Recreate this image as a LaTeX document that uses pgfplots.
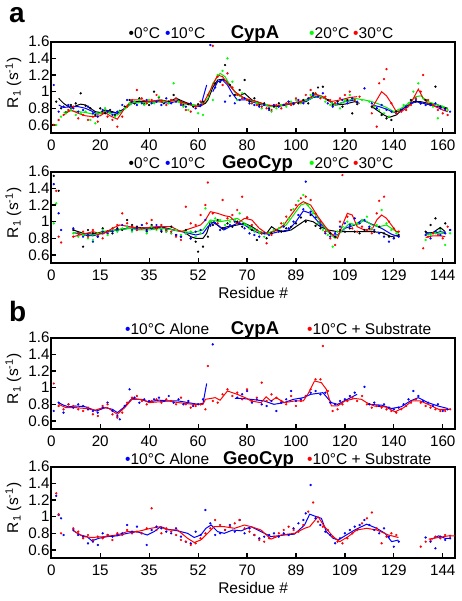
\documentclass[border=0pt]{standalone}
\usepackage{fontspec}
\setmainfont{Liberation Sans}
\usepackage{pgfplots}
\pgfplotsset{compat=1.18}
\definecolor{cg}{RGB}{0,235,0}
\definecolor{cgd}{RGB}{0,255,0}
\pgfplotsset{
  panel/.style={
    scale only axis, width=403.7pt, height=91.6pt,
    xmin=0, xmax=165, ymin=0.5, ymax=1.6,
    ytick={0.6,0.8,1,1.2,1.4,1.6},
    yticklabels={0.6,0.8,1,1.2,1.4,1.6},
    xtick={0,20,40,60,80,100,120,140,160},
    xtick pos=bottom, ytick pos=left,
    tick align=inside, major tick length=5pt,
    axis line style={line width=1.8pt},
    every tick/.style={line width=1.2pt, black},
    ticklabel style={font=\fontsize{15.2}{15.2}\selectfont},
    /pgf/number format/assume math mode=true,
    xticklabel style={anchor=base, yshift=-16.8pt},
    yticklabel style={anchor=east, inner sep=0pt, xshift=-1.5pt},
    ylabel={R\textsubscript{1} (s\textsuperscript{-1})},
    ylabel style={at={(axis description cs:-0.094,0.55)}, anchor=center, rotate=0, font=\fontsize{15.5}{15.5}\selectfont},
    xlabel style={at={(axis description cs:0.5,0)}, anchor=base, yshift=-35.5pt, font=\fontsize{15.5}{15.5}\selectfont},
    unbounded coords=jump,
  },
  sc/.style={only marks, mark=*, mark size=0.95pt},
  ln/.style={no marks, line width=1pt},
}
\newcommand{\lf}{\fontsize{15.5}{15.5}\selectfont}
\newcommand{\tf}{\fontsize{18.5}{18.5}\selectfont\bfseries}
\begin{document}
\begin{tikzpicture}[x=1pt,y=1pt]
\path[use as bounding box] (0,0) rectangle (462,-601);

% ---------------- Panel a, CypA ----------------
\begin{axis}[panel, at={(51.3pt,-133.3pt)}, anchor=south west,
  xticklabels={0,20,40,60,80,100,120,140,160}]
\addplot[sc, black] coordinates {(2,0.88)(4,0.8)(6,0.75)(8,0.84)(10,0.86)(12,0.98)(14,0.83)(16,0.8)(18,0.72)(20,0.8)(22,0.74)(24,0.78)(26,0.72)(28,0.77)(30,0.82)(32,0.9)(34,0.86)(36,0.92)(38,0.85)(40,0.84)(42,1.0)(44,0.93)(46,0.86)(48,0.88)(50,0.96)(52,0.9)(54,0.84)(56,0.85)(58,0.82)(60,0.85)(62,0.88)(67,1.1)(69,1.12)(71,1.32)(73,1.08)(75,0.96)(77,1.02)(79,1.14)(81,0.88)(83,0.92)(85,0.84)(87,0.86)(89,0.8)(91,0.82)(93,0.86)(95,0.84)(97,0.88)(99,0.85)(101,0.86)(103,0.9)(105,0.86)(107,0.98)(109,1.05)(111,1.06)(113,0.9)(115,0.84)(117,0.88)(119,0.82)(121,0.9)(123,0.74)(125,0.85)(131,0.82)(133,0.8)(135,0.72)(137,0.68)(139,0.66)(141,0.76)(143,0.78)(145,0.82)(147,0.9)(149,0.88)(151,0.86)(153,0.9)(155,0.84)(157,1.06)(159,0.82)(161,0.8)};
\addplot[sc, blue] coordinates {(1,1.08)(3,0.76)(5,0.82)(7,0.84)(9,0.8)(11,0.76)(13,0.78)(15,0.82)(17,0.74)(19,0.7)(21,0.78)(23,0.76)(25,0.72)(27,0.76)(29,0.84)(31,0.9)(33,0.88)(35,0.84)(37,0.86)(39,0.9)(41,0.86)(43,0.88)(45,0.84)(47,0.92)(49,0.86)(51,0.88)(53,0.84)(55,0.82)(57,0.86)(59,0.8)(61,0.84)(65,1.56)(67,1.05)(69,1.12)(71,0.88)(73,0.95)(75,0.86)(77,0.9)(79,0.92)(81,0.86)(83,0.84)(85,0.82)(87,0.84)(89,0.78)(91,0.84)(93,0.82)(95,0.84)(97,0.88)(99,0.86)(101,0.9)(103,0.86)(105,0.92)(107,0.96)(109,0.94)(111,0.98)(113,0.86)(115,0.82)(117,0.86)(119,0.9)(121,0.86)(123,0.92)(125,0.88)(128,1.04)(131,0.86)(133,0.8)(135,0.84)(137,0.78)(139,0.76)(141,0.74)(143,0.78)(145,0.82)(147,0.86)(149,0.9)(151,0.86)(153,0.84)(155,0.84)(157,0.86)(159,0.8)(161,0.78)(163,0.76)};
\addplot[sc, cgd] coordinates {(2,0.6)(4,0.7)(6,0.74)(8,0.78)(10,0.72)(12,0.74)(14,0.76)(16,0.66)(18,0.62)(20,0.74)(22,0.8)(24,0.74)(26,0.7)(28,0.76)(30,0.8)(32,0.86)(34,0.88)(36,0.9)(38,0.84)(40,0.9)(42,0.86)(44,0.94)(46,0.88)(48,0.86)(50,1.1)(52,0.88)(54,0.82)(56,0.78)(58,0.84)(60,0.74)(62,0.72)(66,0.9)(68,1.2)(70,1.25)(72,1.4)(74,1.12)(76,0.9)(78,0.98)(80,0.9)(82,0.86)(84,0.86)(86,0.8)(88,0.84)(90,0.76)(92,0.8)(94,0.84)(96,0.82)(98,0.88)(100,0.9)(102,0.86)(104,0.9)(106,0.96)(108,0.98)(110,0.94)(112,0.88)(114,0.84)(116,0.86)(118,0.8)(120,0.9)(122,0.96)(124,0.9)(127,0.9)(130,0.88)(132,0.82)(134,0.78)(136,0.74)(138,0.7)(140,0.76)(142,0.78)(144,0.84)(146,0.86)(148,1.0)(150,1.1)(152,0.92)(154,0.88)(156,0.82)(158,0.68)(160,0.82)(162,0.78)};
\addplot[sc, red] coordinates {(1,0.6)(3,0.66)(5,0.72)(7,0.78)(9,0.82)(11,0.68)(13,0.72)(15,0.66)(17,0.7)(19,0.64)(21,0.74)(23,0.7)(25,0.66)(27,0.58)(29,0.7)(31,0.82)(33,0.9)(35,1.02)(37,0.92)(39,0.86)(41,0.9)(43,0.96)(45,0.88)(47,0.84)(49,0.9)(51,0.92)(53,0.86)(55,0.78)(57,0.76)(59,0.82)(61,0.88)(64,0.96)(66,1.55)(68,1.18)(70,1.08)(72,1.22)(74,1.05)(76,0.96)(78,0.92)(80,0.9)(82,0.86)(84,0.84)(86,0.82)(88,0.8)(90,0.78)(92,0.84)(94,0.8)(96,0.86)(98,0.84)(100,0.92)(102,0.88)(104,0.96)(106,1.02)(108,0.98)(110,0.92)(112,0.94)(114,0.9)(116,0.86)(118,0.92)(120,0.96)(122,1.0)(124,0.9)(126,0.94)(131,0.74)(133,0.58)(134,1.1)(136,1.15)(137,1.27)(139,0.86)(141,0.74)(143,0.76)(145,0.78)(147,0.84)(149,0.92)(151,1.0)(152,1.2)(154,0.9)(156,0.84)(158,0.78)(160,0.74)(162,0.72)};
\addplot[ln, black] coordinates {(3,0.92)(5,0.86)(8,0.8)(10,0.83)(12,0.85)(14,0.84)(16,0.8)(18,0.76)(20,0.75)(22,0.78)(25,0.76)(27,0.74)(30,0.8)(33,0.88)(36,0.88)(40,0.88)(45,0.9)(48,0.88)(51,0.92)(55,0.87)(58,0.84)(61,0.83)(63,0.86)(64,0.9)(66,1.05)(68,1.14)(70,1.15)(72,1.12)(75,1.0)(77,0.95)(79,0.98)(82,0.9)(85,0.87)(88,0.84)(92,0.82)(96,0.84)(100,0.87)(104,0.88)(107,0.94)(110,0.95)(113,0.9)(116,0.84)(120,0.85)(124,0.88)(126,0.86)(128,nan)(131,0.82)(134,0.76)(136,0.72)(138,0.69)(141,0.72)(144,0.8)(148,0.88)(151,0.88)(154,0.86)(157,0.85)(160,0.82)(162,0.8)};
\addplot[ln, blue] coordinates {(3,0.84)(5,0.81)(8,0.82)(11,0.82)(14,0.8)(17,0.76)(19,0.73)(22,0.76)(25,0.75)(27,0.74)(30,0.8)(33,0.86)(36,0.87)(40,0.87)(44,0.88)(48,0.86)(52,0.89)(56,0.85)(59,0.83)(61,0.82)(63.5,1.08)(65,nan)(66,1.0)(68,1.12)(70,1.14)(72,1.08)(74,0.98)(76,0.9)(80,0.9)(84,0.86)(88,0.83)(92,0.83)(96,0.85)(100,0.87)(104,0.88)(107,0.93)(110,0.94)(113,0.9)(116,0.84)(120,0.88)(124,0.9)(128,nan)(131,0.84)(134,0.82)(137,0.79)(140,0.75)(143,0.78)(146,0.84)(149,0.88)(152,0.86)(155,0.84)(158,0.82)(161,0.8)};
\addplot[ln, cg] coordinates {(5,0.75)(8,0.77)(11,0.76)(14,0.75)(17,0.73)(20,0.74)(22,0.76)(25,0.73)(27,0.72)(30,0.79)(33,0.86)(36,0.87)(40,0.87)(45,0.88)(50,0.89)(55,0.85)(59,0.83)(62,0.86)(64,0.92)(66,1.1)(69,1.22)(71,1.18)(73,1.08)(76,0.96)(79,0.92)(82,0.89)(86,0.85)(90,0.82)(94,0.84)(98,0.86)(102,0.88)(105,0.9)(108,0.95)(111,0.93)(114,0.88)(116,0.84)(120,0.88)(124,0.92)(128,0.9)(131,0.88)(134,0.85)(137,0.81)(140,0.76)(143,0.8)(146,0.86)(149,0.94)(151,0.95)(154,0.88)(157,0.85)(160,0.82)(162,0.79)};
\addplot[ln, red] coordinates {(5,0.72)(8,0.78)(11,0.74)(14,0.71)(17,0.7)(20,0.71)(22,0.75)(24,0.71)(27,0.67)(30,0.8)(33,0.9)(37,0.9)(40,0.88)(44,0.9)(48,0.88)(51,0.9)(55,0.86)(59,0.82)(62,0.85)(65,1.02)(68,1.2)(70,1.18)(72,1.1)(75,1.0)(79,0.92)(84,0.88)(88,0.84)(92,0.83)(96,0.85)(100,0.87)(104,0.9)(108,0.97)(111,0.94)(114,0.88)(118,0.9)(122,0.93)(125,0.94)(128,nan)(131,0.8)(133,0.9)(135,1.0)(137,0.95)(139,0.86)(141,0.76)(143,0.76)(146,0.82)(148,0.92)(150,1.03)(152,0.92)(154,0.86)(157,0.82)(160,0.78)(162,0.76)};
\end{axis}

% ---------------- Panel a, GeoCyp ----------------
\begin{axis}[panel, at={(51.3pt,-263.3pt)}, anchor=south west,
  xticklabels={0,15,35,52,70,89,109,129,144}, xlabel={Residue \#}]
\addplot[sc, black] coordinates {(1,1.55)(3,1.37)(9,0.9)(11,0.86)(13,0.7)(15,0.9)(17,0.86)(19,0.82)(21,0.92)(23,0.88)(25,0.86)(27,0.92)(29,0.9)(31,1.02)(33,0.96)(35,0.94)(37,0.92)(39,0.9)(41,0.96)(43,0.92)(45,0.88)(47,0.9)(49,0.94)(51,0.84)(53,0.82)(55,0.9)(57,0.8)(59,0.76)(60,0.64)(62,0.7)(64,0.82)(66,0.96)(68,1.02)(70,0.92)(72,0.98)(74,0.94)(76,1.0)(78,0.94)(80,1.05)(82,0.9)(84,0.78)(86,0.86)(88,0.8)(90,0.86)(92,0.9)(94,0.88)(96,0.92)(98,0.94)(100,0.98)(102,1.05)(104,1.0)(106,1.08)(108,0.95)(110,0.92)(112,0.88)(114,0.86)(116,0.82)(118,0.9)(120,0.88)(122,0.92)(124,0.88)(126,0.86)(128,0.9)(130,0.92)(132,0.88)(134,0.94)(136,0.86)(138,0.82)(140,0.8)(142,0.84)(153,0.88)(155,0.96)(157,1.04)(159,0.92)(161,0.98)(163,0.9)};
\addplot[sc, blue] coordinates {(1,1.45)(3,1.1)(4,0.9)(9,0.92)(11,0.86)(13,0.82)(15,0.84)(17,0.76)(19,0.82)(21,0.88)(23,0.86)(25,0.88)(27,0.9)(29,0.96)(31,0.94)(33,0.9)(35,0.92)(37,0.96)(39,0.88)(41,0.92)(43,0.96)(45,0.9)(47,0.88)(49,0.86)(51,0.84)(53,0.82)(55,0.86)(57,0.8)(59,0.88)(61,0.9)(63,1.02)(65,0.95)(67,0.98)(69,0.9)(71,0.92)(73,0.96)(75,1.0)(77,0.98)(79,0.92)(81,0.86)(83,0.84)(85,0.82)(87,0.86)(89,0.84)(91,0.9)(93,0.88)(95,0.94)(97,0.92)(99,1.0)(101,1.08)(103,1.15)(104,1.48)(106,1.12)(108,1.05)(110,0.96)(112,0.86)(114,0.82)(116,0.86)(118,0.94)(120,0.98)(122,0.96)(124,1.04)(126,0.98)(128,1.02)(130,0.94)(132,0.9)(134,0.86)(136,0.82)(138,0.76)(140,0.8)(142,0.82)(153,0.84)(155,0.8)(157,0.88)(159,0.84)(161,0.86)(163,0.9)};
\addplot[sc, cgd] coordinates {(1,0.98)(2,1.22)(9,0.86)(11,0.82)(13,0.84)(15,0.8)(17,0.78)(19,0.86)(21,0.9)(23,0.84)(25,0.92)(27,0.88)(29,0.92)(31,0.94)(33,0.88)(35,0.9)(37,0.92)(39,0.86)(41,0.94)(43,0.9)(45,0.92)(47,0.88)(49,0.86)(51,0.9)(53,0.84)(55,0.86)(57,0.88)(59,0.82)(61,0.86)(63,1.16)(65,1.0)(67,1.04)(69,1.02)(71,0.96)(73,1.0)(75,1.02)(77,1.1)(79,0.96)(81,0.92)(83,0.88)(85,0.86)(87,0.82)(89,0.86)(91,0.9)(93,0.92)(95,0.98)(97,1.04)(99,1.15)(101,1.25)(103,1.32)(105,1.2)(107,1.1)(109,0.98)(111,0.9)(113,0.84)(115,0.7)(117,0.88)(119,0.94)(121,1.0)(123,0.96)(125,0.98)(127,1.02)(129,1.06)(131,0.92)(133,0.96)(135,1.14)(137,0.98)(139,0.9)(141,0.86)(153,0.78)(155,0.84)(157,0.86)(159,0.9)(161,0.72)(163,0.86)};
\addplot[sc, red] coordinates {(2,1.37)(3,0.82)(4,0.75)(9,0.82)(11,0.86)(13,0.88)(15,0.82)(17,0.9)(19,0.84)(21,0.8)(23,0.88)(25,0.92)(27,0.96)(29,1.1)(31,0.98)(33,0.94)(35,0.9)(37,0.92)(39,0.98)(41,1.02)(43,0.92)(45,0.96)(47,0.9)(49,0.88)(51,0.82)(53,0.78)(55,1.18)(57,0.98)(59,0.96)(61,1.08)(63,1.2)(64,1.47)(66,1.1)(68,0.98)(70,1.26)(72,1.04)(74,1.08)(76,1.14)(78,1.3)(80,1.05)(82,0.96)(84,0.9)(86,0.86)(88,0.74)(90,0.84)(92,0.9)(94,0.98)(96,1.06)(98,1.14)(100,1.2)(102,1.28)(104,1.3)(106,1.26)(108,1.1)(110,1.0)(112,0.88)(114,0.8)(116,0.72)(118,1.0)(119,1.56)(121,1.06)(123,0.92)(125,0.88)(127,0.94)(129,0.9)(131,0.86)(133,1.1)(134,1.25)(136,1.3)(138,1.0)(140,0.92)(142,0.88)(152,0.68)(154,0.82)(156,0.86)(158,0.84)(160,0.8)(162,0.94)};
\addplot[ln, black] coordinates {(9,0.9)(13,0.86)(17,0.85)(21,0.88)(26,0.9)(31,0.92)(36,0.93)(41,0.92)(46,0.93)(50,0.9)(54,0.88)(57,0.82)(59,0.8)(62,0.8)(63.5,0.86)(65,1.0)(67,0.98)(69.5,0.92)(72,0.94)(76,0.96)(79,0.98)(82,0.94)(85,0.88)(88,0.86)(90,0.94)(92,0.9)(95,0.88)(98,0.9)(101,0.96)(104,1.02)(107,1.0)(110,0.94)(113,0.9)(117,0.88)(121,0.88)(126,0.88)(131,0.88)(135,0.87)(139,0.82)(142,0.84)(147,nan)(153,0.86)(156,0.87)(159,0.93)(161,0.88)};
\addplot[ln, blue] coordinates {(9,0.87)(13,0.84)(17,0.83)(22,0.87)(27,0.9)(32,0.92)(36,0.91)(40,0.93)(45,0.93)(50,0.9)(55,0.87)(59,0.84)(62,0.86)(64,0.94)(66.5,1.0)(70.5,0.9)(73,0.94)(76,0.98)(79,0.96)(82,0.9)(85,0.86)(89,0.85)(93,0.88)(97,0.9)(100,1.0)(103,1.13)(106,1.1)(109,1.0)(112,0.92)(115,0.84)(117,0.84)(120,0.92)(124,0.96)(127,1.02)(131,0.97)(135,0.92)(139,0.85)(142,0.82)(147,nan)(153,0.87)(156,0.86)(159,0.88)(161,0.87)};
\addplot[ln, cg] coordinates {(9,0.87)(13,0.85)(17,0.84)(22,0.88)(27,0.9)(32,0.92)(36,0.9)(40,0.9)(45,0.92)(50,0.9)(54,0.88)(58,0.87)(62,0.9)(65,1.02)(69,1.0)(73,1.02)(76,1.04)(79,0.98)(82,0.92)(85,0.88)(88,0.86)(92,0.9)(96,0.96)(99,1.08)(102,1.2)(104,1.22)(107,1.12)(110,1.0)(113,0.88)(116,0.8)(119,0.9)(122,0.98)(125,0.96)(128,1.02)(131,0.96)(134,0.94)(137,0.96)(140,0.9)(142,0.86)(147,nan)(153,0.84)(156,0.86)(159,0.86)(161,0.86)};
\addplot[ln, red] coordinates {(9,0.82)(13,0.85)(17,0.88)(21,0.85)(25,0.92)(28,0.96)(32,0.94)(37,0.92)(43,0.94)(49,0.94)(53,0.88)(57,0.92)(61,0.96)(63,1.02)(65,1.12)(68,1.1)(71,1.07)(73,1.06)(76,0.98)(79,1.04)(82,1.02)(85,0.92)(88,0.86)(91,0.88)(95,0.96)(98,1.08)(101,1.2)(103,1.24)(106,1.2)(109,1.06)(112,0.94)(115,0.84)(117,0.8)(119,0.96)(121,1.1)(123,1.08)(125,0.94)(128,0.9)(131,0.9)(133,1.02)(135,1.08)(137,1.04)(139,0.96)(141,0.88)(142,0.88)(147,nan)(153,0.81)(156,0.83)(159,0.83)(161,0.82)};
\end{axis}

% ---------------- Panel b, CypA ----------------
\begin{axis}[panel, at={(51.3pt,-429.3pt)}, anchor=south west,
  xticklabels={0,20,40,60,80,100,120,140,160}]
\addplot[sc, blue] coordinates {(1,0.72)(3,0.82)(5,0.7)(7,0.8)(9,0.76)(11,0.8)(13,0.78)(15,0.74)(17,0.72)(19,0.7)(21,0.76)(23,0.82)(25,0.72)(27,0.66)(28,0.62)(30,0.78)(32,0.98)(34,0.88)(36,0.82)(38,0.86)(40,0.84)(42,0.86)(44,0.88)(46,0.84)(48,0.9)(50,0.82)(52,0.86)(54,0.8)(56,0.84)(58,0.78)(60,0.8)(62,0.86)(66,1.52)(76,0.88)(78,0.92)(80,0.96)(82,0.82)(84,0.86)(86,0.8)(88,0.78)(90,0.84)(92,0.72)(94,0.82)(96,0.86)(98,0.96)(100,0.84)(102,0.86)(104,0.9)(106,0.94)(108,0.96)(110,0.92)(112,0.94)(114,0.82)(116,0.8)(118,0.84)(120,0.86)(122,0.9)(124,0.94)(128,1.01)(130,0.8)(132,0.82)(134,0.78)(136,0.8)(138,0.76)(140,0.74)(142,0.76)(144,0.8)(146,0.86)(148,0.96)(150,0.9)(152,0.84)(154,0.82)(156,0.78)(158,0.8)(160,0.72)(162,0.74)};
\addplot[sc, red] coordinates {(1,1.05)(3,0.78)(5,0.74)(7,0.8)(9,0.78)(11,0.74)(13,0.72)(15,0.76)(17,0.68)(19,0.66)(21,0.78)(23,0.8)(25,0.68)(27,0.64)(29,0.7)(31,0.82)(33,0.88)(35,0.9)(37,0.84)(39,0.8)(41,0.84)(43,0.86)(45,0.82)(47,0.86)(49,0.84)(51,0.8)(53,0.88)(55,0.8)(57,0.76)(59,0.78)(61,0.8)(63,0.74)(64,1.26)(66,0.84)(68,0.82)(70,0.92)(72,0.98)(74,0.9)(76,0.94)(78,0.86)(80,0.98)(82,0.84)(84,0.88)(86,1.06)(88,0.84)(90,0.92)(92,0.88)(94,0.84)(96,0.8)(98,0.9)(100,0.78)(102,0.84)(104,0.9)(106,0.98)(108,1.1)(110,1.1)(111,1.5)(113,0.96)(115,0.72)(117,0.74)(119,0.8)(121,0.84)(123,0.88)(125,0.84)(127,0.9)(129,0.8)(131,0.76)(133,0.78)(135,0.76)(137,0.74)(139,0.72)(141,0.7)(143,0.74)(145,0.78)(147,0.82)(149,0.86)(151,0.82)(153,0.78)(155,0.76)(157,0.74)(159,0.72)(161,0.72)(163,0.74)};
\addplot[ln, blue] coordinates {(3,0.82)(5,0.79)(7,0.77)(10,0.78)(14,0.77)(18.5,0.72)(22,0.76)(25,0.74)(27,0.7)(29.5,0.76)(33,0.87)(36,0.86)(40,0.83)(44,0.85)(48,0.84)(52,0.84)(56,0.82)(60,0.8)(62,0.81)(63.5,1.05)(70,nan)(75,0.87)(78,0.87)(81.6,0.86)(87,0.84)(91,0.8)(95,0.82)(99,0.86)(103,0.88)(106,0.92)(111,0.94)(114.5,0.82)(117,0.8)(121,0.86)(125,0.92)(127,nan)(129.5,0.8)(135,0.79)(139,0.75)(143,0.77)(146.7,0.84)(150,0.88)(154,0.82)(158,0.78)(162,0.75)};
\addplot[ln, red] coordinates {(3,0.8)(6,0.76)(10,0.76)(14,0.75)(18,0.73)(20,0.75)(23,0.76)(25,0.72)(27,0.68)(30,0.76)(33,0.86)(37,0.86)(40,0.82)(44,0.83)(48,0.84)(52,0.82)(55,0.81)(58,0.8)(62,0.8)(63,0.86)(67,0.88)(69,0.85)(72,0.96)(76,0.92)(80,0.87)(81.6,0.84)(85.7,0.82)(87.8,0.89)(89.8,0.84)(91.9,0.88)(95.3,0.82)(99.4,0.84)(103,0.84)(105,0.93)(107.6,1.08)(110.4,1.06)(112.4,0.98)(114.5,0.78)(117,0.78)(120,0.84)(124,0.87)(126.8,0.86)(128.9,0.82)(132,0.78)(136.4,0.77)(140.5,0.71)(144,0.76)(147.4,0.84)(150.8,0.84)(154,0.8)(158.3,0.74)(162.4,0.74)};
\end{axis}

% ---------------- Panel b, GeoCyp ----------------
\begin{axis}[panel, at={(51.3pt,-558.3pt)}, anchor=south west,
  xticklabels={0,15,35,52,70,89,109,129,144}, xlabel={Residue \#}]
\addplot[sc, blue] coordinates {(2,1.25)(3,1.02)(4,0.98)(5,0.78)(9,0.84)(11,0.78)(13,0.76)(15,0.68)(17,0.7)(19,0.66)(21,0.8)(23,0.78)(25,0.76)(27,0.78)(29,0.8)(31,0.9)(33,0.82)(35,0.88)(37,0.8)(39,0.66)(41,0.84)(43,0.88)(45,0.86)(47,0.82)(49,0.8)(51,0.86)(53,0.76)(55,0.7)(57,0.68)(59,0.82)(61,0.78)(63,1.08)(65,0.92)(67,0.78)(69,0.8)(71,0.84)(73,0.9)(75,0.82)(77,0.96)(79,0.8)(81,0.86)(83,0.78)(85,0.74)(87,0.76)(89,0.78)(91,0.8)(93,0.76)(95,0.8)(97,0.78)(99,0.86)(101,0.92)(103,0.96)(104,1.04)(106,1.38)(108,0.98)(110,0.9)(112,0.82)(114,0.78)(116,0.68)(118,0.74)(120,0.8)(122,0.84)(124,0.88)(126,0.9)(128,0.96)(130,0.9)(132,0.84)(134,0.8)(136,0.86)(138,0.76)(140,0.64)(142,0.7)(153,0.75)(155,0.7)(157,0.62)(159,0.76)(161,0.72)(163,0.74)};
\addplot[sc, red] coordinates {(2,1.28)(3,1.03)(4,0.8)(9,0.86)(11,0.82)(13,0.74)(15,0.78)(17,0.72)(19,0.76)(21,0.74)(23,0.78)(25,0.72)(27,0.8)(29,0.78)(31,0.84)(33,0.8)(35,0.82)(37,0.8)(39,0.86)(41,1.1)(43,0.84)(45,0.8)(47,0.86)(49,0.82)(51,0.78)(53,0.72)(55,0.7)(57,0.66)(59,0.68)(61,0.74)(63,0.8)(65,0.86)(67,0.96)(69,0.9)(71,0.84)(73,0.88)(75,0.92)(77,0.96)(79,0.86)(81,0.82)(83,0.78)(85,0.72)(87,0.7)(89,0.74)(91,0.76)(93,0.8)(95,0.84)(97,0.88)(99,0.84)(101,0.82)(103,0.9)(105,1.06)(107,1.17)(109,0.94)(111,0.88)(113,0.84)(115,0.76)(117,0.7)(119,0.68)(121,0.74)(123,0.8)(125,0.84)(127,0.92)(129,0.98)(131,1.05)(133,0.86)(135,0.68)(137,0.76)(139,0.8)(141,0.78)(151,0.64)(153,0.7)(155,0.72)(157,0.76)(159,0.74)(161,0.78)(163,0.77)};
\addplot[ln, blue] coordinates {(9.1,0.83)(11.8,0.78)(14.6,0.76)(16.6,0.71)(19.4,0.74)(22.8,0.76)(26.9,0.77)(31,0.8)(35,0.82)(39.2,0.78)(42,0.82)(44.7,0.88)(47.4,0.85)(51.6,0.83)(55.7,0.8)(58.4,0.75)(61.1,0.78)(63.2,0.86)(65.3,0.9)(68,0.82)(70.7,0.8)(74.2,0.84)(77.6,0.83)(81.7,0.88)(85.7,0.82)(89.8,0.76)(95.3,0.78)(99.4,0.79)(103.5,0.9)(105.6,1.03)(108.3,1.0)(110.4,0.98)(112.4,0.82)(115.2,0.74)(117.2,0.72)(120.6,0.78)(124,0.84)(128.9,0.91)(133,0.86)(136.4,0.8)(139.1,0.7)(141.9,0.72)(148,nan)(155.6,0.73)(158.3,0.77)(161,0.74)(163,0.74)};
\addplot[ln, red] coordinates {(9.1,0.83)(13.2,0.76)(16.6,0.75)(21.4,0.76)(26.9,0.78)(31,0.82)(35,0.82)(40.6,0.86)(44.7,0.88)(47.4,0.84)(51.6,0.84)(55.7,0.74)(58.4,0.69)(61.1,0.72)(63.9,0.8)(66.6,0.88)(70.7,0.88)(74.9,0.86)(78.9,0.9)(81.6,0.88)(85.7,0.84)(89.8,0.73)(94,0.78)(99.4,0.8)(103.5,0.86)(105.6,0.88)(109,1.0)(111.7,0.88)(115.2,0.76)(117.9,0.7)(121.3,0.76)(124.8,0.84)(128.9,0.86)(133,0.84)(137.8,0.78)(141.9,0.75)(148,nan)(154.2,0.73)(158.3,0.75)(162.4,0.77)(165,0.77)};
\end{axis}

% ---------------- labels, titles, legends ----------------
\node[anchor=base west, inner sep=0pt, font=\fontsize{28}{28}\selectfont\bfseries] at (9,-22.7) {a};
\node[anchor=base west, inner sep=0pt, font=\fontsize{28}{28}\selectfont\bfseries] at (9,-321.7) {b};

\node[anchor=base, inner sep=0pt, font=\tf] at (255,-38.3) {CypA};
\node[anchor=base west, inner sep=0pt, font=\lf] at (128.5,-38.3) {\textcolor{black}{•}0°C};
\node[anchor=base west, inner sep=0pt, font=\lf] at (165,-38.3) {\textcolor{blue}{•}10°C};
\node[anchor=base west, inner sep=0pt, font=\lf] at (309,-38.3) {\textcolor{cgd}{•}20°C};
\node[anchor=base west, inner sep=0pt, font=\lf] at (353,-38.3) {\textcolor{red}{•}30°C};

\node[anchor=base, inner sep=0pt, font=\tf] at (257.5,-169) {GeoCyp};
\node[anchor=base west, inner sep=0pt, font=\lf] at (128.5,-169) {\textcolor{black}{•}0°C};
\node[anchor=base west, inner sep=0pt, font=\lf] at (165,-169) {\textcolor{blue}{•}10°C};
\node[anchor=base west, inner sep=0pt, font=\lf] at (309,-169) {\textcolor{cgd}{•}20°C};
\node[anchor=base west, inner sep=0pt, font=\lf] at (353,-169) {\textcolor{red}{•}30°C};

\node[anchor=base, inner sep=0pt, font=\tf] at (255,-334) {CypA};
\node[anchor=base west, inner sep=0pt, font=\lf] at (125,-334) {\textcolor{blue}{•}10°C Alone};
\node[anchor=base west, inner sep=0pt, font=\lf] at (307,-334) {\textcolor{red}{•}10°C + Substrate};

\node[anchor=base, inner sep=0pt, font=\tf] at (258.5,-464) {GeoCyp};
\node[anchor=base west, inner sep=0pt, font=\lf] at (125,-464) {\textcolor{blue}{•}10°C Alone};
\node[anchor=base west, inner sep=0pt, font=\lf] at (307,-464) {\textcolor{red}{•}10°C + Substrate};
\end{tikzpicture}
\end{document}
